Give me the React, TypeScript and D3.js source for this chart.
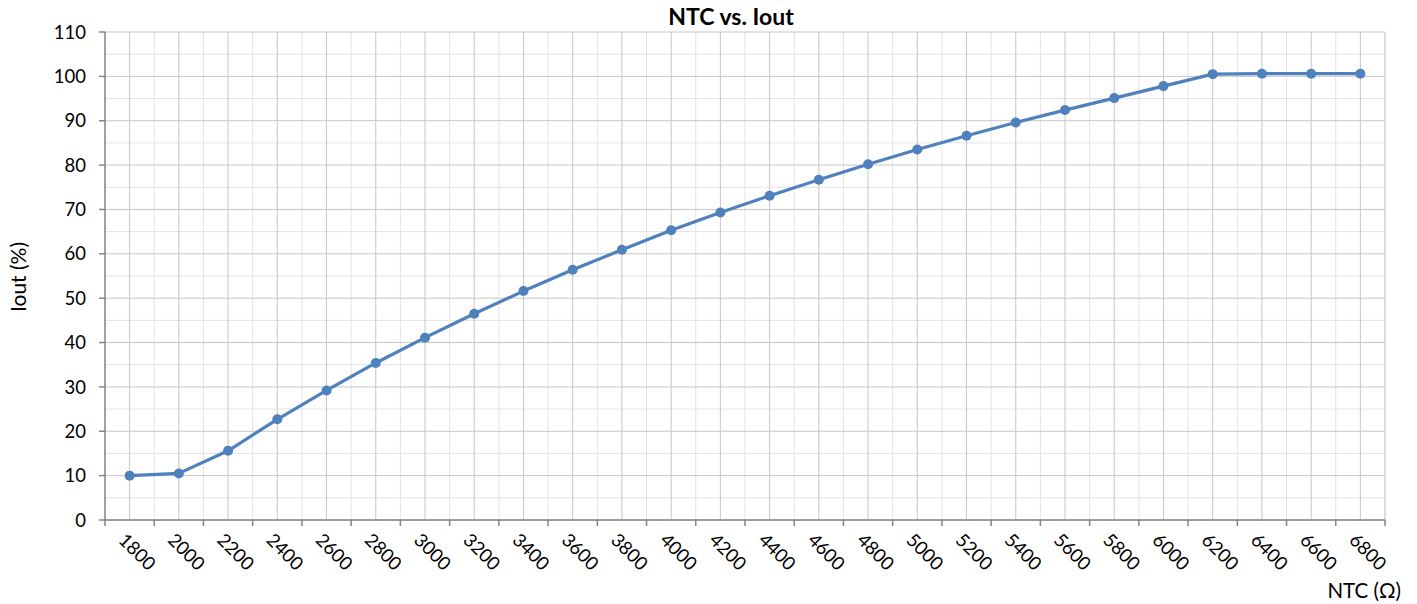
import React from "react";
import * as d3 from "d3";

const categories = [
  "1800", "2000", "2200", "2400", "2600", "2800", "3000", "3200", "3400", "3600",
  "3800", "4000", "4200", "4400", "4600", "4800", "5000", "5200", "5400", "5600",
  "5800", "6000", "6200", "6400", "6600", "6800",
];
const ioutValues = [
  10.0, 10.5, 15.6, 22.7, 29.2, 35.4, 41.1, 46.5, 51.6, 56.4,
  60.9, 65.3, 69.3, 73.1, 76.7, 80.2, 83.5, 86.6, 89.6, 92.4,
  95.1, 97.8, 100.5, 100.6, 100.6, 100.6,
];
const yTicks = [0, 10, 20, 30, 40, 50, 60, 70, 80, 90, 100, 110];
const yMinorTicks = [5, 15, 25, 35, 45, 55, 65, 75, 85, 95, 105];

const W = 1417;
const H = 604;
const left = 105;
const right = 1385;
const top = 32;
const bottom = 520;
const font = "Lato, 'Noto Sans', sans-serif";

export default function App() {
  const x = d3.scaleBand<string>().domain(categories).range([left, right]).padding(0);
  const y = d3.scaleLinear().domain([0, 110]).range([bottom, top]);
  const bw = x.bandwidth();
  const boundaries = d3.range(categories.length + 1).map((i) => left + i * bw);
  const cx = (c: string) => (x(c) as number) + bw / 2;

  const line = d3
    .line<number>()
    .x((_, i) => cx(categories[i]))
    .y((d) => y(d));

  return (
    <svg
      width={W}
      height={H}
      style={{ position: "absolute", left: 0, top: 0, background: "#fff" }}
      fontFamily={font}
    >
      {yMinorTicks.map((t) => (
        <line key={"ym" + t} x1={left} x2={right} y1={y(t)} y2={y(t)} stroke="#e3e3e3" strokeWidth={1} />
      ))}
      {boundaries.map((b, i) => (
        <line key={"xm" + i} x1={b} x2={b} y1={top} y2={bottom} stroke="#e3e3e3" strokeWidth={1} />
      ))}
      {yTicks.map((t) => (
        <line key={"y" + t} x1={left} x2={right} y1={y(t)} y2={y(t)} stroke="#c6c6c6" strokeWidth={1} />
      ))}
      {categories.map((c) => (
        <line key={"x" + c} x1={cx(c)} x2={cx(c)} y1={top} y2={bottom} stroke="#c6c6c6" strokeWidth={1} />
      ))}
      <line x1={right} x2={right} y1={top} y2={bottom} stroke="#c6c6c6" strokeWidth={1} />

      <line x1={left} x2={left} y1={top} y2={bottom} stroke="#868686" strokeWidth={1.5} />
      <line x1={left} x2={right} y1={bottom} y2={bottom} stroke="#868686" strokeWidth={1.5} />
      {yTicks.map((t) => (
        <g key={"yt" + t}>
          <line x1={left - 6} x2={left} y1={y(t)} y2={y(t)} stroke="#868686" strokeWidth={1.5} />
          <text x={86} y={y(t)} dy="0.36em" textAnchor="end" fontSize={18.5} fill="#000">
            {t}
          </text>
        </g>
      ))}
      {boundaries.map((b, i) => (
        <line key={"xt" + i} x1={b} x2={b} y1={bottom} y2={bottom + 6} stroke="#868686" strokeWidth={1.5} />
      ))}
      {categories.map((c) => (
        <text
          key={"xl" + c}
          transform={`translate(${cx(c) - 3},${bottom + 12}) rotate(45)`}
          dy="0.7em"
          textAnchor="start"
          fontSize={18.5}
          fill="#000"
        >
          {c}
        </text>
      ))}

      <path d={line(ioutValues) || ""} fill="none" stroke="#4f81bd" strokeWidth={3.2} strokeLinejoin="round" />
      {ioutValues.map((v, i) => (
        <circle key={"p" + i} cx={cx(categories[i])} cy={y(v)} r={5} fill="#4f81bd" />
      ))}

      <text x={731} y={25} textAnchor="middle" fontSize={23} fontWeight="bold" fill="#000">
        NTC vs. Iout
      </text>
      <text transform={`translate(26,277) rotate(-90)`} textAnchor="middle" fontSize={21} fill="#000">
        Iout (%)
      </text>
      <text x={1401} y={598} textAnchor="end" fontSize={20.5} fill="#000">
        NTC (Ω)
      </text>
    </svg>
  );
}
